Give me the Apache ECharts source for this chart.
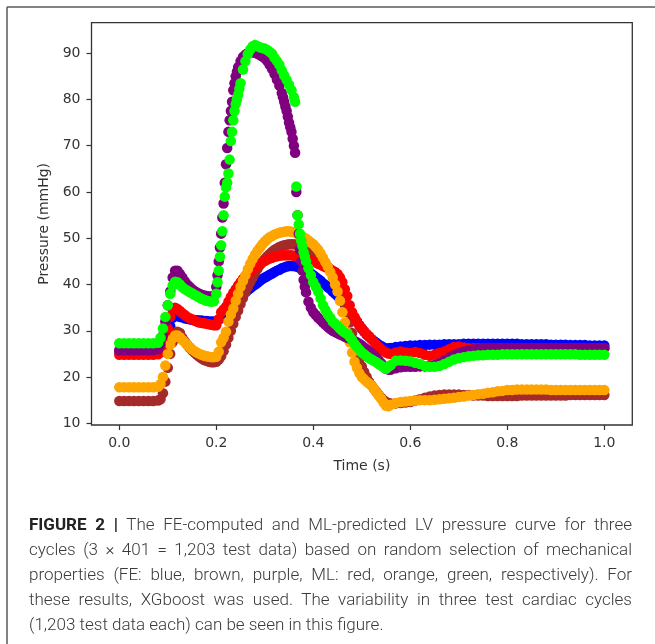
<!DOCTYPE html>
<html><head><meta charset="utf-8">
<script src="https://cdn.jsdelivr.net/npm/echarts@6/dist/echarts.min.js"></script>
<style>
html,body{margin:0;padding:0;background:#fff;}
#wrap{position:relative;width:655px;height:644px;overflow:hidden;}
#chart{position:absolute;left:0;top:0;width:655px;height:644px;}
#cap{position:absolute;left:29px;top:512px;width:603px;font-family:Roboto,'Liberation Sans',sans-serif;font-size:17px;color:#3a3a3a;font-weight:300;}
#cap div{height:25px;line-height:25px;text-align:justify;text-align-last:justify;}
#cap div.last{text-align-last:left;}
#cap b{font-weight:700;color:#222;}
</style></head><body>
<div id="wrap"><div id="chart"></div><div id="cap"></div></div>
<script>
// ---- sampling times (s) ----
const time = [0,0.01,0.02,0.03,0.04,0.05,0.06,0.07,0.08,
0.085,0.09,0.095,0.1,0.105,0.11,0.115,0.12,0.125,0.13,0.135,0.14,0.145,0.15,0.155,0.16,0.165,0.17,0.175,0.18,0.185,0.19,0.195,0.2,
0.205,0.21,0.215,0.22,0.225,0.23,0.235,0.24,0.245,0.25,0.255,0.26,0.265,0.27,0.275,0.28,0.285,0.29,0.295,0.3,
0.305,0.31,0.315,0.32,0.325,0.33,0.335,0.34,0.345,0.35,0.355,0.36,0.365,0.37,0.375,0.38,0.385,0.39,0.395,0.4,
0.405,0.41,0.415,0.42,0.425,0.43,0.435,0.44,0.445,0.45,0.455,0.46,0.465,0.47,0.475,0.48,0.485,0.49,0.495,0.5,
0.505,0.51,0.515,0.52,0.525,0.53,0.535,0.54,0.545,0.55,0.555,0.56,
0.57,0.58,0.59,0.6,0.61,0.62,0.63,0.64,0.65,0.66,0.67,0.68,0.69,0.7,0.71,0.72,0.73,0.74,0.75,0.76,0.77,0.78,0.79,0.8,0.81,0.82,0.83,0.84,0.85,0.86,0.87,0.88,0.89,0.9,0.91,0.92,0.93,0.94,0.95,0.96,0.97,0.98,0.99,1.0];

// ---- pressures (mmHg) at those times ----
// FE (blue, brown, purple)
const blueP = [25.5,25.5,25.5,25.5,25.5,25.5,25.5,25.5,25.6,
25.9,26.5,27.6,29,31,32.8,33.3,33.2,33,32.9,32.7,32.6,32.5,32.4,32.3,32.3,32.2,32.2,32.1,32.1,32,32,32,32,
32.4,32.8,33.3,33.8,34.4,35,35.6,36.2,36.8,37.3,37.8,38.3,38.8,39.2,39.6,40,40.4,40.8,41.2,41.5,
41.8,42.1,42.4,42.7,43,43.2,43.5,43.7,43.9,44,44,44,43.9,43.7,43.5,43.3,43,42.7,42.4,42,
41.6,41.2,40.8,40.3,39.9,39.4,39,38.5,38,37.5,36.9,36.3,35.7,35,34.3,33.5,32.8,32,31.2,30.5,
29.8,29.2,28.7,28.2,27.8,27.4,27,26.7,26.4,26.1,26.2,26.3,
26.5,26.6,26.7,26.8,26.8,26.9,26.9,27,27,27,27.1,27.1,27.1,27.1,27.2,27.2,27.2,27.2,27.2,27.2,27.2,27.2,27.2,27.2,27.2,27.2,27.1,27.1,27.1,27.1,27.1,27.1,27,27,27,27,26.9,26.9,26.9,26.9,26.8,26.8,26.8,26.8];
const brownP = [14.8,14.8,14.8,14.8,14.8,14.8,14.8,14.8,14.9,
15.2,16.5,19,22,25,27.5,29.3,29.8,29.5,28.5,27.7,27,26.4,25.8,25.3,24.8,24.4,24,23.7,23.5,23.3,23.2,23.2,23.3,
23.8,24.5,25.6,27,28.5,30,31.5,33,34.4,35.8,37.1,38.3,39.4,40.5,41.5,42.5,43.4,44.2,44.9,45.5,
46.1,46.6,47.1,47.5,47.8,48.1,48.3,48.5,48.6,48.7,48.7,48.7,48.6,48.5,48.4,48.2,48,47.7,47.4,47,
46.6,46.2,45.7,45.2,44.5,43.8,43.1,42.3,41.4,40.3,39,37.5,35.8,34,31.8,29.5,27.5,25.5,23.8,22.3,
21.1,20,19,18.2,17.5,16.8,16.1,15.5,15,14.6,14.4,14.3,
14.3,14.4,14.5,14.6,14.9,15.2,15.5,15.8,16,16.1,16.2,16.2,16.2,16.2,16.1,16.1,16,16,16,15.9,15.9,15.9,15.9,15.9,15.9,15.9,16,16,16,16,16,16,16,16,16,16,16.1,16.1,16.1,16.1,16.1,16.1,16.1,16.1];
const purpleP = [25.8,25.8,25.8,25.8,25.8,25.8,25.8,25.8,26,
27,29,32,35.5,38.5,41.5,43,43,42.3,41.5,40.7,40,39.5,39,38.6,38.3,38,37.8,37.6,37.5,37.4,37.4,37.6,39.5,
45,51,57.5,66,73,77.5,82,85,87,88.3,89.2,89.7,90,90.2,90.2,90.1,89.9,89.6,89.3,88.9,
88.3,87.5,86.6,85.5,84.3,83,81.4,79.5,77.5,75,73,70,60,51,45,41,38.3,36.3,35,34,
33.4,32.8,32.3,31.8,31.3,30.8,30.4,30,29.7,29.5,29.2,29,28.7,28.5,28.3,28.1,27.8,27.5,27.2,26.8,
26.4,26,25.6,25.2,24.7,24.2,23.6,23,22.4,21.8,21.6,21.6,
21.9,22.1,22.2,22.2,22.2,22.3,22.3,22.4,22.6,23,23.6,24.2,24.7,25.2,25.5,25.8,26,26.1,26.2,26.3,26.3,26.3,26.3,26.3,26.3,26.3,26.3,26.3,26.3,26.3,26.3,26.3,26.3,26.3,26.3,26.3,26.3,26.3,26.3,26.3,26.3,26.3,26.3,26.3];
// ML (red, orange, green)
const redP = [24.8,24.8,24.8,24.8,24.8,24.8,24.8,24.8,24.9,
25.3,26.5,28.5,30.5,33,34.6,35,34.7,34.3,33.8,33.4,33,32.7,32.5,32.2,32,31.8,31.7,31.6,31.5,31.4,31.3,31.2,31.2,
32.5,34,34.6,35.2,36.3,37.3,38.2,39,39.8,40.5,41.2,41.8,42.3,42.8,43.3,43.8,44.2,44.5,44.8,45.1,
45.4,45.6,45.8,46,46.1,46.2,46.3,46.3,46.3,46.3,46.3,46.2,46.1,46,45.9,45.7,45.6,45.4,45.2,45,
44.8,44.5,44.3,44,43.8,43.5,43.3,43,42.7,42.3,41.5,40.5,39,37.5,35.5,34,33,32,31.2,30.5,
29.9,29.3,28.8,28.2,27.6,27,26.5,26,25.6,25.3,25.1,25,
25.3,25.5,25.3,25.2,25.4,25.2,24.8,24.6,24.8,25.2,25.5,26,26.5,26.6,26.4,26.2,26.2,26.2,26.2,26.2,26.2,26.2,26.2,26.2,26.2,26.2,26.2,26.2,26.2,26.2,26.2,26.2,26.2,26.2,26.2,26.2,26.2,26.2,26.2,26.2,26.2,26.2,26.2,26.2];
const orangeP = [17.8,17.8,17.8,17.8,17.8,17.8,17.8,17.8,17.9,
18.5,20,22.5,25,27,28.3,29,29,28.6,28,27.5,27,26.5,26,25.6,25.3,25,24.8,24.6,24.5,24.4,24.3,24.3,24.4,
25.5,27.5,28.5,29.8,32,33.5,34.8,36.5,38,39.5,40.8,42,43.3,44.5,45.5,46.5,47.3,48,48.7,49.3,
49.8,50.2,50.5,50.8,51,51.2,51.3,51.4,51.5,51.5,51.4,51.3,51.1,50.8,50.5,50.2,49.9,49.5,49.1,48.7,
48.1,47.5,46.7,45.8,44.8,43.8,42.7,41.5,40,38.5,36.5,34,31.8,29.5,27.5,25.3,23.3,22,20.8,20,
19.5,19,18.6,18.2,17.5,16.7,16,15.3,14.5,13.8,13.7,14,
14.4,14.6,14.7,14.8,14.9,15,15,15,15.1,15.2,15.3,15.4,15.5,15.7,15.8,16,16.1,16.3,16.4,16.6,16.7,16.9,17,17.2,17.2,17.3,17.3,17.3,17.3,17.3,17.3,17.3,17.2,17.2,17.2,17.2,17.2,17.2,17.2,17.2,17.2,17.2,17.2,17.2];
const greenP = [27.3,27.3,27.3,27.3,27.3,27.3,27.3,27.3,27.4,
28.5,30.5,33,35.5,38,39.8,40.6,40.5,40,39.4,39,38.7,38.4,38.1,37.8,37.5,37.2,36.9,36.7,36.5,36.4,36.3,36.4,38,
43,48.5,55,61,64,71,75.5,79,81,83.5,86.5,88.3,89.8,90.8,91.5,91.8,91.5,91.3,91.1,91,
90.7,90.3,89.9,89,88.3,87.5,86.3,85.2,84.2,83.2,82,80.5,61.2,53,49.5,47,45,43.5,42,40.5,
39.5,38.5,37,35.5,34.5,33.5,32.8,32,31.5,31,30.5,30,29.6,29.3,28.7,28,27.2,26.5,25.9,25.3,
24.9,24.5,24.1,23.8,23.5,23.2,22.8,22.5,22.1,21.8,22.2,22.6,
23.5,23.6,23.5,23.4,23.1,22.8,22.4,22.2,22.2,22.4,22.8,23.3,23.8,24.1,24.3,24.5,24.6,24.7,24.7,24.8,24.8,24.8,24.9,24.9,24.9,24.9,24.9,24.9,24.9,24.9,24.9,24.9,24.9,24.9,24.9,24.9,24.9,24.9,24.8,24.8,24.8,24.8,24.8,24.8];
// extra samples on the steep flanks of the purple (FE) and green (ML) curves: [time, pressure]
const purpleSteep = [[0.2025,42],[0.2075,48],[0.2125,54.5],[0.2175,62],[0.2225,69.5],[0.2275,75.5],[0.2325,79.5],[0.2375,83.5],[0.2425,86],[0.3375,80.5],[0.3425,78.5],[0.3475,76.3],[0.3525,74],[0.3575,71.5],[0.3625,68.5],[0.3675,55],[0.3725,47.5],[0.3775,43],[0.3825,39.5]];
const greenSteep = [[0.2025,40.5],[0.2075,46],[0.2125,51.5],[0.2175,59],[0.2225,62],[0.2275,67],[0.2325,73],[0.2375,77.5],[0.2425,80],[0.2475,82.3],[0.3625,79.5],[0.3675,55],[0.3725,51],[0.3775,48.3],[0.3825,46]];

const xTicks = [0, 0.2, 0.4, 0.6, 0.8, 1.0];
const yTicks = [10, 20, 30, 40, 50, 60, 70, 80, 90];
const xName = 'Time (s)';
const yName = 'Pressure (mmHg)';
const captionLines = [
  ['FIGURE 2 |', ' The FE-computed and ML-predicted LV pressure curve for three'],
  ['', 'cycles (3 \u00d7 401 = 1,203 test data) based on random selection of mechanical'],
  ['', 'properties (FE: blue, brown, purple, ML: red, orange, green, respectively). For'],
  ['', 'these results, XGboost was used. The variability in three test cardiac cycles'],
  ['', '(1,203 test data each) can be seen in this figure.']
];

// caption
const cap = document.getElementById('cap');
captionLines.forEach((l, i) => {
  const d = document.createElement('div');
  if (i === captionLines.length - 1) d.className = 'last';
  if (l[0]) { const b = document.createElement('b'); b.textContent = l[0]; d.appendChild(b); }
  d.appendChild(document.createTextNode(l[1]));
  cap.appendChild(d);
});

function pairs(vals, extra) {
  const out = [];
  time.forEach((t, i) => { if (vals[i] !== undefined) out.push([t, vals[i]]); });
  return extra ? out.concat(extra) : out;
}
// drawing order (later = on top)
const seriesDefs = [
  ['FE blue', pairs(blueP), '#0000ff'],
  ['FE brown', pairs(brownP), '#a52a2a'],
  ['ML red', pairs(redP), '#ff0000'],
  ['ML orange', pairs(orangeP), '#ffa500'],
  ['FE purple', pairs(purpleP, purpleSteep), '#800080'],
  ['ML green', pairs(greenP, greenSteep), '#00ff00']
];
const font = 'DejaVu Sans';
const chart = echarts.init(document.getElementById('chart'), null, {renderer: 'canvas'});
chart.setOption({
  animation: false,
  backgroundColor: '#ffffff',
  grid: {left: 91.5, right: 22.7, top: 22.7, bottom: 219, show: true, borderColor: '#333', borderWidth: 1.3, backgroundColor: '#fff'},
  graphic: [
    {type: 'line', shape: {x1: 7, y1: 7, x2: 655, y2: 7}, style: {stroke: '#5a5a5a', lineWidth: 1.5}},
    {type: 'line', shape: {x1: 7, y1: 7, x2: 7, y2: 644}, style: {stroke: '#5a5a5a', lineWidth: 1.5}}
  ],
  xAxis: {
    type: 'value', min: -0.0573, max: 1.0577,
    name: xName, nameLocation: 'middle', nameGap: 34,
    nameTextStyle: {fontFamily: font, fontSize: 14, color: '#333'},
    axisLine: {show: false, onZero: false},
    splitLine: {show: false},
    axisTick: {show: true, length: 5, customValues: xTicks, lineStyle: {color: '#333', width: 1.2}},
    axisLabel: {customValues: xTicks, margin: 11, fontFamily: font, fontSize: 14, color: '#333', formatter: v => v.toFixed(1)}
  },
  yAxis: {
    type: 'value', min: 9.63, max: 96.6,
    name: yName, nameLocation: 'middle', nameGap: 39.5, nameRotate: 90,
    nameTextStyle: {fontFamily: font, fontSize: 14, color: '#333'},
    axisLine: {show: false, onZero: false},
    splitLine: {show: false},
    axisTick: {show: true, length: 5, customValues: yTicks, lineStyle: {color: '#333', width: 1.2}},
    axisLabel: {customValues: yTicks, margin: 11, fontFamily: font, fontSize: 14, color: '#333', formatter: v => String(Math.round(v))}
  },
  series: seriesDefs.map(([name, data, color]) => ({
    name, type: 'scatter', data, symbol: 'circle', symbolSize: 10.5,
    itemStyle: {color, opacity: 1}, silent: true
  }))
});
</script>
</body></html>
